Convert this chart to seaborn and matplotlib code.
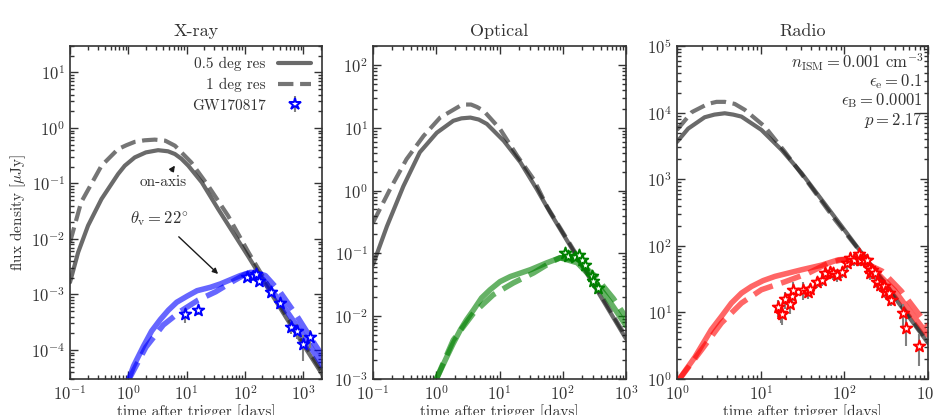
import numpy as np
import matplotlib
matplotlib.use("Agg")
import matplotlib.pyplot as plt
from matplotlib.lines import Line2D
from matplotlib.ticker import LogLocator, NullFormatter
import seaborn as sns

# ---------------- X-ray ----------------
xr_gray_t = [0.1, 0.138, 0.204, 0.347, 0.668, 0.87, 1.29, 2.0, 3.24, 4.8, 6.31, 8.1, 10.7, 18.2,
             34.7, 67.6, 115, 525, 2200]
xr_gray_f = [1.66e-3, 5.75e-3, 1.74e-2, 5.25e-2, 0.148, 0.209, 0.295, 0.363, 0.398, 0.38, 0.339,
             0.28, 0.209, 0.105, 3.47e-2, 1.15e-2, 4.79e-3, 3.63e-4, 3.4e-5]
xr_gray_dt = [0.1, 0.155, 0.347, 0.668, 0.93, 1.29, 1.9, 2.85, 4.3, 6.31, 12.0, 23.4, 51.3, 115,
              525, 2200]
xr_gray_df = [8.71e-3, 4.57e-2, 0.209, 0.417, 0.49, 0.562, 0.60, 0.617, 0.59, 0.479, 0.240,
              0.0912, 0.0263, 5.75e-3, 3.98e-4, 3.8e-5]
xr_col_t = [1.0, 1.23, 1.82, 2.51, 3.55, 4.9, 6.76, 10.2, 15.1, 25.7, 38.0, 83.2, 126, 160, 200,
            398, 794, 1585, 2200]
xr_col_f = [2.82e-5, 5.13e-5, 1.17e-4, 2.19e-4, 3.55e-4, 5.25e-4, 7.24e-4, 9.33e-4, 1.17e-3,
            1.35e-3, 1.55e-3, 2.19e-3, 2.51e-3, 2.4e-3, 1.91e-3, 7.59e-4, 2.63e-4, 8.51e-5, 5.0e-5]
xr_col_dt = [1.0, 2.0, 3.98, 7.94, 15.8, 31.6, 63.1, 100, 141, 224, 398, 794, 1585, 2200]
xr_col_df = [2.82e-5, 1.12e-4, 2.82e-4, 5.01e-4, 7.94e-4, 1.12e-3, 1.74e-3, 2.29e-3, 2.51e-3,
             2.19e-3, 1.12e-3, 3.98e-4, 1.26e-4, 7.5e-5]
xr_obs_t = [9.5, 15.5, 110, 135, 158, 174, 275, 395, 615, 780, 1000, 1310]
xr_obs_f = [4.37e-4, 5.25e-4, 2.09e-3, 2.14e-3, 2.30e-3, 1.78e-3, 1.12e-3, 6.9e-4, 2.63e-4,
            2.24e-4, 1.26e-4, 1.70e-4]
xr_obs_rel = [0.3, 0.2, 0.15, 0.15, 0.15, 0.15, 0.15, 0.15, 0.25, 0.3, 0.5, 0.35]

# ---------------- Optical ----------------
op_gray_t = [0.1, 0.166, 0.302, 0.550, 1.02, 1.86, 2.5, 3.47, 4.7, 6.31, 11.7, 21.4, 38.9, 63.1,
             251, 1000]
op_gray_f = [0.0661, 0.269, 1.17, 4.07, 8.32, 12.9, 14.1, 14.5, 13.5, 11.5, 6.17, 2.82, 1.05,
             0.447, 0.0447, 4.37e-3]
op_gray_dt = [0.1, 0.186, 0.339, 0.631, 1.15, 2.40, 2.9, 3.55, 4.4, 5.62, 10.2, 19.1, 34.7, 56.2,
              251, 1000]
op_gray_df = [0.309, 1.05, 3.16, 7.41, 14.5, 22.4, 23.4, 23.4, 21.4, 18.6, 9.55, 3.55, 1.51,
              0.562, 0.0479, 4.68e-3]
op_col_t = [0.955, 1.48, 1.86, 2.40, 3.0, 3.89, 5.2, 7.08, 10.2, 14.8, 30.9, 56.2, 91.2, 170,
            309, 575, 1000]
op_col_f = [8.91e-4, 2.29e-3, 3.7e-3, 6.03e-3, 8.7e-3, 0.0126, 0.0195, 0.0263, 0.0355, 0.0427,
            0.0550, 0.0708, 0.0851, 0.0708, 0.0380, 0.0162, 7.08e-3]
op_col_dt = [0.955, 1.86, 3.89, 7.94, 16.6, 34.7, 70.8, 91.2, 158, 316, 631, 1000]
op_col_df = [8.91e-4, 4.17e-3, 0.0112, 0.0219, 0.0339, 0.0490, 0.0759, 0.0851, 0.0794, 0.0447,
             0.0191, 9.55e-3]
op_obs_t = [110, 123, 158, 178, 200, 224, 288, 302, 363]
op_obs_f = [0.100, 0.0912, 0.0891, 0.0933, 0.0794, 0.0661, 0.0437, 0.0363, 0.0282]
op_obs_rel = [0.15, 0.15, 0.15, 0.15, 0.15, 0.15, 0.15, 0.15, 0.15]

# ---------------- Radio ----------------
ra_gray_t = [1.0, 1.36, 2.14, 2.8, 3.72, 4.7, 5.89, 10.2, 17.8, 30.9, 53.7, 93.3, 316, 1000]
ra_gray_f = [3630, 5750, 8510, 9330, 9770, 9330, 8710, 5500, 2750, 1230, 490, 195, 25.1, 3.47]
ra_gray_dt = [1.0, 1.51, 2.34, 2.97, 3.72, 4.9, 6.46, 11.2, 19.5, 37.2, 77.6, 316, 1000]
ra_gray_df = [5500, 10200, 13500, 14500, 14500, 13500, 11000, 6170, 2570, 871, 245, 26.3, 3.63]
ra_col_t = [1.0, 1.64, 2.57, 3.4, 4.47, 5.9, 7.76, 10.7, 14.8, 30.9, 53.7, 85.1, 112, 158, 234,
            398, 631, 1000]
ra_col_f = [0.891, 2.14, 5.50, 8.7, 13.8, 19.5, 24.5, 30.0, 34.7, 43.7, 51.3, 61.7, 63.1, 58.9,
            41.7, 21.4, 9.77, 4.57]
ra_col_dt = [1.0, 1.97, 3.39, 5.89, 10.2, 19.5, 37.2, 64.6, 93.3, 141, 282, 479, 759, 1000]
ra_col_df = [0.891, 2.75, 6.92, 13.8, 21.9, 28.8, 38.9, 55.0, 61.7, 63.1, 41.7, 20.9, 9.77, 6.31]
ra_obs_t = [16.2, 17.4, 18.2, 19.5, 22.4, 23.4, 24.5, 32.4, 37.2, 38.9, 46.8, 53.7, 58.9, 67.6,
            74.1, 81.3, 93.3, 107, 117, 129, 148, 155, 170, 186, 195, 204, 214, 234, 245, 269,
            295, 309, 339, 363, 501, 550, 776]
ra_obs_f = [12.0, 9.77, 9.33, 15.8, 13.5, 17.4, 21.9, 21.9, 20.0, 22.4, 28.8, 30.9, 38.9, 40.7,
            38.9, 36.3, 40.7, 55.0, 64.6, 61.7, 75.9, 61.7, 61.7, 61.7, 45.7, 38.9, 43.7, 38.9,
            28.8, 25.7, 24.5, 20.4, 19.5, 15.5, 9.77, 5.75, 3.16]
ra_obs_rel = [0.3] * 8 + [0.2] * 26 + [0.35, 0.45, 0.5]

panels = [
    dict(title="X-ray", color="#0000ff", xlim=(0.1, 2100), ylim=(3e-5, 30),
         gray=(xr_gray_t, xr_gray_f, xr_gray_dt, xr_gray_df),
         col=(xr_col_t, xr_col_f, xr_col_dt, xr_col_df),
         obs=(xr_obs_t, xr_obs_f, xr_obs_rel)),
    dict(title="Optical", color="#008000", xlim=(0.1, 1000), ylim=(1e-3, 200),
         gray=(op_gray_t, op_gray_f, op_gray_dt, op_gray_df),
         col=(op_col_t, op_col_f, op_col_dt, op_col_df),
         obs=(op_obs_t, op_obs_f, op_obs_rel)),
    dict(title="Radio", color="#ff0000", xlim=(1, 1000), ylim=(1, 1e5),
         gray=(ra_gray_t, ra_gray_f, ra_gray_dt, ra_gray_df),
         col=(ra_col_t, ra_col_f, ra_col_dt, ra_col_df),
         obs=(ra_obs_t, ra_obs_f, ra_obs_rel)),
]

sns.set_theme(style="ticks")
txt = "#333333"
plt.rcParams.update({
    "font.family": "serif",
    "font.serif": ["cmr10"],
    "mathtext.fontset": "cm",
    "axes.formatter.use_mathtext": True,
    "axes.unicode_minus": False,
    "text.color": txt,
    "axes.labelcolor": txt,
    "xtick.color": txt,
    "ytick.color": txt,
    "axes.edgecolor": txt,
    "axes.linewidth": 1.2,
    "xtick.direction": "in",
    "ytick.direction": "in",
    "xtick.top": True,
    "ytick.right": True,
    "xtick.major.size": 6,
    "ytick.major.size": 6,
    "xtick.minor.size": 3,
    "ytick.minor.size": 3,
    "xtick.labelsize": 12,
    "ytick.labelsize": 12,
})

fig = plt.figure(figsize=(9.34, 4.15), dpi=100)
lefts = [70, 373, 677]
widths = [252, 253, 251]
axes = [fig.add_axes([l / 934, 1 - 379 / 415, w / 934, 333 / 415]) for l, w in zip(lefts, widths)]

for ax, p in zip(axes, panels):
    ax.set_xscale("log")
    ax.set_yscale("log")
    gt, gf, gdt, gdf = p["gray"]
    ct, cf, cdt, cdf = p["col"]
    ot, of, orel = p["obs"]
    sns.lineplot(x=gt, y=gf, ax=ax, color="k", alpha=0.65, lw=3, estimator=None, sort=False)
    sns.lineplot(x=gdt, y=gdf, ax=ax, color="k", alpha=0.6, lw=3, linestyle="--",
                 estimator=None, sort=False)
    sns.lineplot(x=ct, y=cf, ax=ax, color=p["color"], alpha=0.6, lw=4, estimator=None, sort=False)
    sns.lineplot(x=cdt, y=cdf, ax=ax, color=p["color"], alpha=0.6, lw=4, linestyle="--",
                 estimator=None, sort=False)
    yerr = np.array(of) * np.array(orel)
    ax.errorbar(ot, of, yerr=yerr, fmt="none", ecolor="gray", elinewidth=1.5, zorder=4)
    sns.scatterplot(x=ot, y=of, ax=ax, marker="*", s=75, facecolor="white",
                    edgecolor=p["color"], linewidth=1.4, zorder=5)
    ax.set_xlim(*p["xlim"])
    ax.set_ylim(*p["ylim"])
    for axis in (ax.xaxis, ax.yaxis):
        axis.set_major_locator(LogLocator(base=10, numticks=100))
        axis.set_minor_locator(LogLocator(base=10, subs=np.arange(2, 10), numticks=100))
        axis.set_minor_formatter(NullFormatter())
    ax.set_title(p["title"], fontsize=13, pad=7)
    ax.set_xlabel("time after trigger [days]", fontsize=11, labelpad=1)
    ax.tick_params(which="both", width=1)

axes[0].set_ylabel(r"flux density [$\mu$Jy]", fontsize=11, labelpad=2)

# annotations on the X-ray panel
ax = axes[0]
ax.annotate("on-axis", xy=(6.3, 0.21), xytext=(4.0, 0.105), ha="center", va="center",
            fontsize=11, arrowprops=dict(arrowstyle="-|>", color="k", lw=1, mutation_scale=8,
                                         shrinkA=1, shrinkB=0))
ax.annotate(r"$\theta_{\rm v} = 22^{\circ}$", xy=(34.7, 2.34e-3), xytext=(3.4, 0.0235),
            ha="center", va="center", fontsize=12,
            arrowprops=dict(arrowstyle="-|>", color="k", lw=1, mutation_scale=8,
                            shrinkA=6, shrinkB=0))

handles = [
    Line2D([], [], color="k", alpha=0.65, lw=3),
    Line2D([], [], color="k", alpha=0.6, lw=3, linestyle="--"),
    (Line2D([], [], color="gray", marker="|", ls="none", ms=12, mew=1.5),
     Line2D([], [], color="#0000ff", marker="*", ls="none", ms=9, mfc="white", mec="#0000ff", mew=1.4)),
]
ax.legend(handles, ["0.5 deg res", "1 deg res", "GW170817"], loc="upper right",
          frameon=False, markerfirst=False, fontsize=11, handlelength=2.2,
          borderaxespad=0.3, labelspacing=0.45, handletextpad=0.8)

# parameters on the radio panel
params = [r"$n_{\rm ISM} = 0.001\ {\rm cm}^{-3}$", r"$\epsilon_{\rm e} = 0.1$",
          r"$\epsilon_{\rm B} = 0.0001$", r"$p = 2.17$"]
axes[2].text(0.98, 0.985, "\n".join(params), transform=axes[2].transAxes, ha="right", va="top",
             fontsize=12, linespacing=1.0)

fig.savefig("out.png", dpi=100)
